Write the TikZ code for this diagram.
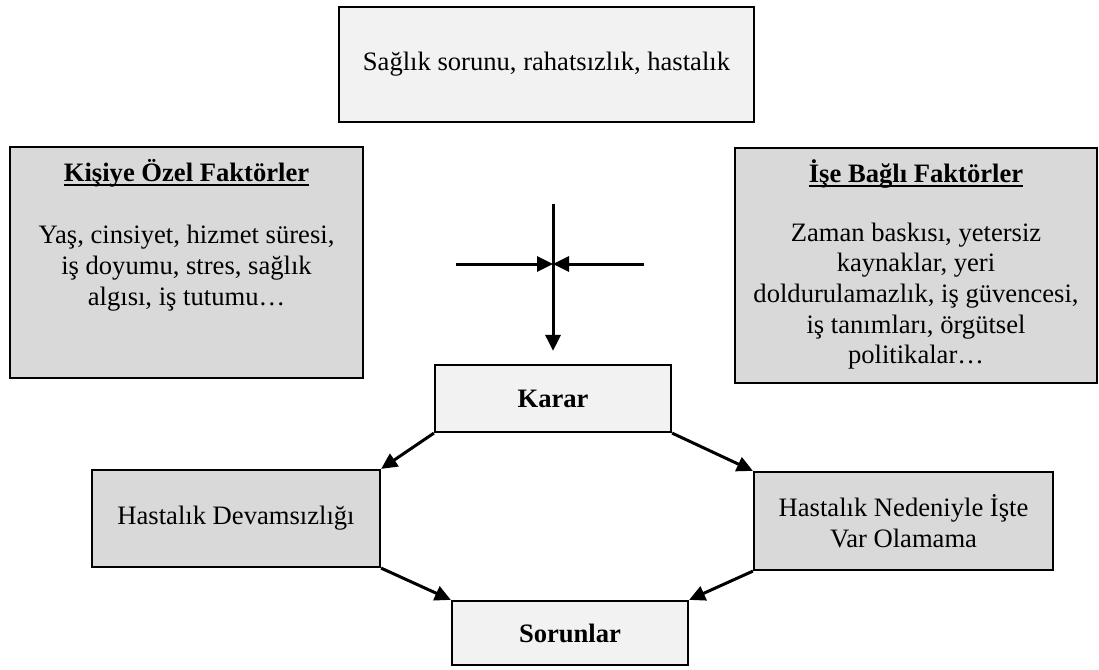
\documentclass[tikz,border=0pt]{standalone}
\usepackage{fontspec}
\setmainfont{Liberation Serif}
\usetikzlibrary{arrows.meta}
\definecolor{lightfill}{HTML}{F2F2F2}
\definecolor{darkfill}{HTML}{D9D9D9}
% bold heading with a firm rule under it
\newcommand{\ultitle}[1]{\setbox0=\hbox{\textbf{#1}}\rlap{\rule[-4.5pt]{\wd0}{2pt}}\box0}
\begin{document}
\begin{tikzpicture}[x=1pt,y=-1pt,
  basebox/.style={draw=black, line width=2.2pt, inner sep=0pt, align=center,
    font=\fontsize{26.6}{30.7}\selectfont},
  lightbox/.style={basebox, fill=lightfill},
  darkbox/.style={basebox, fill=darkfill},
  txt/.style={align=center, inner sep=0pt, font=\fontsize{26.6}{30.7}\selectfont},
  arr/.style={line width=3pt, -{Triangle[length=16pt,width=15pt]}},
]
\useasboundingbox (0,0) rectangle (1099,669);

% top: the triggering health problem
\node[lightbox, minimum width=415pt, minimum height=115pt] (saglik) at (546.5,64.5)
  {Sağlık sorunu, rahatsızlık, hastalık};

% personal factors
\node[darkbox, minimum width=353pt, minimum height=231pt] (kisi) at (186.5,262.5) {};
\node[txt] (kisititle) at (186.5,173) {\ultitle{Kişiye Özel Faktörler}};
\node[txt] (kisibody) at (186.5,268)
  {Yaş, cinsiyet, hizmet süresi,\\ iş doyumu, stres, sağlık\\ algısı, iş tutumu…};

% work-related factors
\node[darkbox, minimum width=362pt, minimum height=235pt] (is) at (916,265.5) {};
\node[txt] (istitle) at (916,174) {\ultitle{İşe Bağlı Faktörler}};
\node[txt] (isbody) at (916,296)
  {Zaman baskısı, yetersiz\\ kaynaklar, yeri\\ doldurulamazlık, iş güvencesi,\\
   iş tanımları, örgütsel\\ politikalar…};

% decision and outcomes
\node[lightbox, minimum width=236pt, minimum height=67pt, font=\fontsize{26.6}{30.7}\selectfont\bfseries]
  (karar) at (553,398.5) {Karar};
\node[darkbox, minimum width=288pt, minimum height=97pt] (devam) at (236,518.5)
  {Hastalık Devamsızlığı};
\node[darkbox, minimum width=299pt, minimum height=98pt] (varol) at (903.5,521)
  {Hastalık Nedeniyle İşte\\ Var Olamama};
\node[lightbox, minimum width=236pt, minimum height=64pt, font=\fontsize{26.6}{30.7}\selectfont\bfseries]
  (sorun) at (570,633) {Sorunlar};

% converging cross above the decision
\coordinate (vtop) at (553,204);
\coordinate (hleft) at (456,264);
\coordinate (hright) at (644,264);
\coordinate (meet) at (553,264);
\draw[line width=3pt] (vtop) -- (meet);
\draw[arr] (meet) -- ([yshift=13pt]karar.north);
\draw[arr] (hleft) -- (meet);
\draw[arr] (hright) -- (meet);

% decision branches and their consequences
\draw[arr] (karar.south west) -- (devam.north east);
\draw[arr] (karar.south east) -- (varol.north west);
\draw[arr] (devam.south east) -- (sorun.north west);
\draw[arr] (varol.south west) -- (sorun.north east);
\end{tikzpicture}
\end{document}
